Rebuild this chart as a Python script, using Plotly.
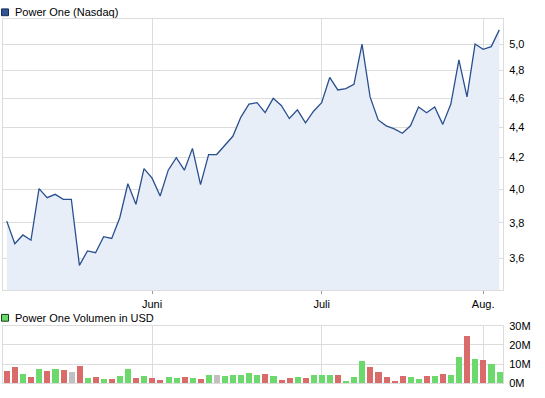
import plotly.graph_objects as go

# ---------------- data ----------------
price = [3.81, 3.68, 3.73, 3.70, 4.005, 3.95, 3.97, 3.94, 3.94, 3.56,
         3.64, 3.63, 3.72, 3.71, 3.83, 4.035, 3.91, 4.13, 4.07, 3.96,
         4.12, 4.20, 4.12, 4.26, 4.03, 4.22, 4.22, 4.28, 4.34, 4.47,
         4.56, 4.57, 4.50, 4.60, 4.55, 4.46, 4.52, 4.43, 4.51, 4.57,
         4.75, 4.66, 4.67, 4.70, 5.00, 4.61, 4.45, 4.41, 4.39, 4.36,
         4.41, 4.54, 4.50, 4.54, 4.42, 4.56, 4.88, 4.61, 5.00, 4.96,
         4.98, 5.11]
prev_close = 3.85
volume_m = [6.6, 8.6, 5.1, 3.5, 7.6, 6.6, 7.6, 7.1, 6.1, 9.1,
            3.0, 3.5, 2.5, 2.5, 4.0, 7.6, 3.0, 4.0, 3.0, 2.0,
            3.5, 3.0, 3.5, 3.0, 2.5, 4.6, 4.6, 4.0, 4.6, 4.6,
            5.6, 4.6, 5.1, 4.0, 2.0, 3.0, 3.5, 3.0, 4.6, 4.6,
            4.6, 4.6, 1.5, 3.5, 11.6, 8.6, 6.1, 3.5, 1.5, 4.0,
            3.5, 2.5, 4.0, 4.0, 5.1, 4.6, 13.7, 24.8, 12.6, 12.1,
            10.1, 6.1]
month_pos = [18, 39, 59]
month_labels = ["Juni", "Juli", "Aug."]
price_ticks = [3.6, 3.8, 4.0, 4.2, 4.4, 4.6, 4.8, 5.0]
vol_ticks = [0, 10, 20, 30]
vol_tick_labels = ["0M", "10M", "20M", "30M"]
price_title = "Power One (Nasdaq)"
vol_title = "Power One Volumen in USD"

# ---------------- styles ----------------
W, H = 545, 398
FONT = "Liberation Sans"
GRID = "#dcdcdc"
LINE = "#2a4f8f"
FILL = "#e8eef8"
UP, DOWN, FLAT = "#6bd96b", "#d96b6b", "#c0c0c0"
Y_LO, Y_HI = 3.4255, 5.199

x = list(range(len(price)))
prevs = [prev_close] + price[:-1]
colors = [UP if p > q else (DOWN if p < q else FLAT) for p, q in zip(price, prevs)]

def py(pix):
    return 1 - pix / H

fig = go.Figure()
fig.add_trace(go.Scatter(x=x, y=[Y_LO] * len(x), mode="lines",
                         line=dict(width=0), hoverinfo="skip", showlegend=False,
                         xaxis="x", yaxis="y"))
fig.add_trace(go.Scatter(x=x, y=price, mode="lines", fill="tonexty",
                         fillcolor=FILL, line=dict(color=LINE, width=1.3),
                         showlegend=False, xaxis="x", yaxis="y"))
fig.add_trace(go.Bar(x=x, y=volume_m, marker=dict(color=colors, line=dict(width=0)),
                     width=0.75, showlegend=False, xaxis="x2", yaxis="y2"))

xdom = [2.7 / W, 503 / W]
xr = [-0.5, 61.46]
common_x = dict(range=xr, domain=xdom, showgrid=True, gridcolor=GRID, gridwidth=1,
                tickmode="array", tickvals=month_pos, zeroline=False,
                showline=True, linecolor=GRID, mirror=True)
fig.update_layout(
    width=W, height=H, margin=dict(l=0, r=0, t=0, b=0),
    paper_bgcolor="white", plot_bgcolor="white",
    separators=",.",
    font=dict(family=FONT, size=11, color="#000000"),
    bargap=0,
    xaxis=dict(**common_x, anchor="y", ticktext=month_labels,
               ticks="outside", ticklen=3, tickcolor="#999999",
               tickfont=dict(family=FONT, size=11)),
    xaxis2=dict(**common_x, anchor="y2", ticktext=["", "", ""], showticklabels=False),
    yaxis=dict(type="log", range=[__import__("math").log10(Y_LO), __import__("math").log10(Y_HI)],
               domain=[py(293.3), py(13)], side="right", anchor="x",
               tickmode="array", tickvals=price_ticks,
               ticktext=[f"{v:.1f}".replace(".", ",") for v in price_ticks],
               showgrid=True, gridcolor=GRID, showline=True, linecolor=GRID,
               mirror=True, zeroline=False, ticks="", ticklabelstandoff=3),
    yaxis2=dict(range=[0, 30], domain=[py(389), py(329.7)], side="right", anchor="x2",
                tickmode="array", tickvals=vol_ticks, ticktext=vol_tick_labels,
                showgrid=True, gridcolor=GRID, showline=True, linecolor=GRID,
                mirror=True, zeroline=False, ticks="", ticklabelstandoff=3),
)

# legends (square + text)
fig.add_shape(type="rect", xref="paper", yref="paper",
              x0=1.5 / W, x1=8.5 / W, y0=py(10), y1=py(3),
              fillcolor="#2f5597", line=dict(color="#1a2a50", width=1))
fig.add_annotation(xref="paper", yref="paper", x=13 / W, y=py(6.5), text=price_title,
                   showarrow=False, xanchor="left", yanchor="middle",
                   font=dict(family=FONT, size=11, color="#000"))
fig.add_shape(type="rect", xref="paper", yref="paper",
              x0=1.5 / W, x1=8.5 / W, y0=py(325), y1=py(318),
              fillcolor="#66d966", line=dict(color="#1a3a1a", width=1))
fig.add_annotation(xref="paper", yref="paper", x=13 / W, y=py(321.5), text=vol_title,
                   showarrow=False, xanchor="left", yanchor="middle",
                   font=dict(family=FONT, size=11, color="#000"))

fig.write_html("out.html")
